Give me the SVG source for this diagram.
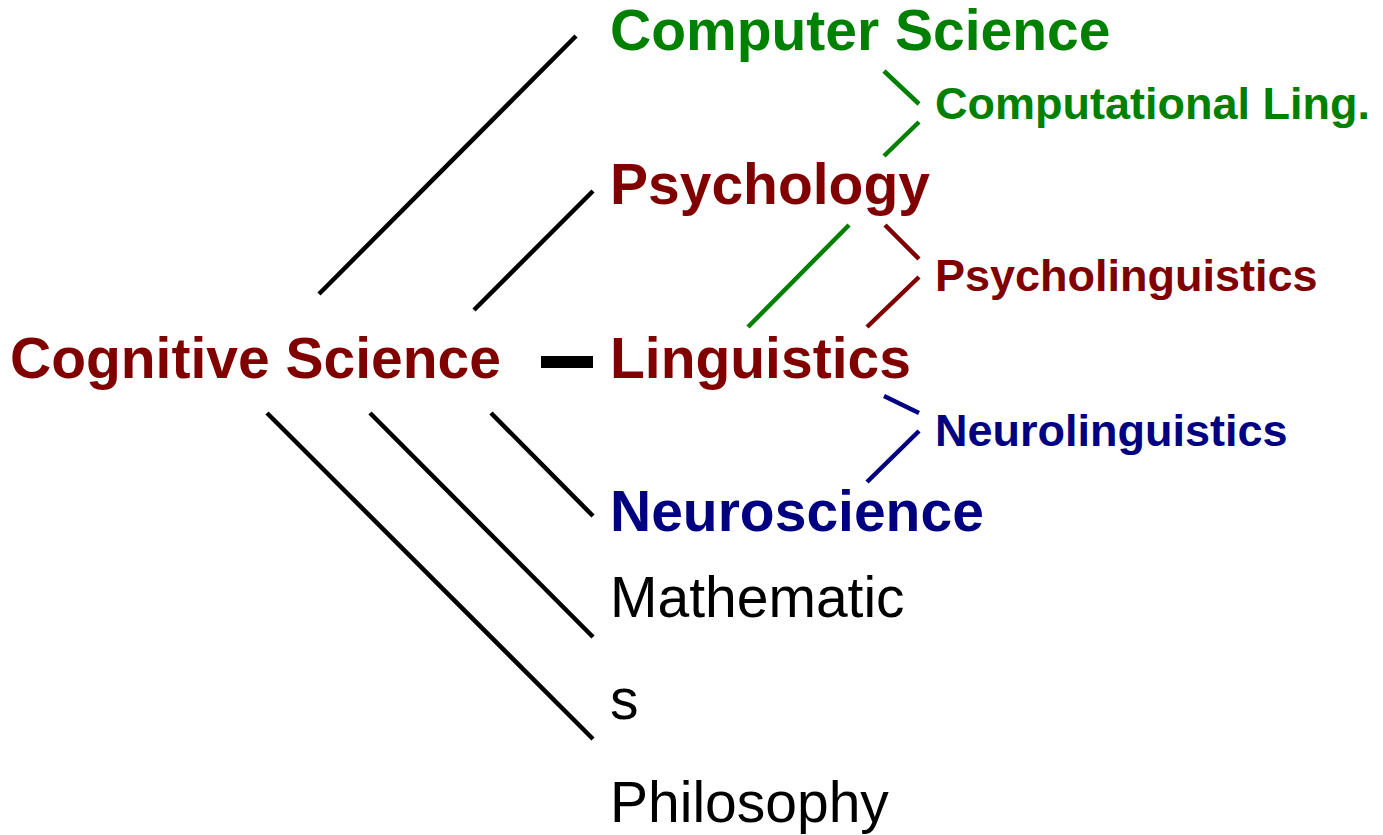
<svg xmlns="http://www.w3.org/2000/svg" width="1383" height="835" viewBox="0 0 1383 835">
<style>
.t{font-family:"Liberation Sans",Arial,sans-serif;font-weight:bold;font-size:57px}
.s{font-family:"Liberation Sans",Arial,sans-serif;font-weight:bold;font-size:45px}
.r{font-family:"Liberation Sans",Arial,sans-serif;font-weight:normal;font-size:57px;fill:#000}
.red{fill:#800000}.grn{fill:#008000}.blu{fill:#000080}
.k{stroke:#000;stroke-width:4.5;fill:none}
.g{stroke:#008000;stroke-width:4.5;fill:none}
.m{stroke:#800000;stroke-width:4.5;fill:none}
.b{stroke:#000080;stroke-width:4.5;fill:none}
</style>
<rect width="1383" height="835" fill="#fff"/>
<g id="connectors">
<line class="k" x1="319" y1="294" x2="576" y2="36"/>
<line class="k" x1="474" y1="310" x2="593" y2="191"/>
<rect x="541" y="356" width="52" height="12" fill="#000"/>
<line class="k" x1="491" y1="413" x2="593" y2="516"/>
<line class="k" x1="370" y1="413" x2="593" y2="637"/>
<line class="k" x1="267" y1="413" x2="593" y2="739"/>
<line class="g" x1="884" y1="71" x2="919" y2="104"/>
<line class="g" x1="919" y1="122" x2="884" y2="156"/>
<line class="g" x1="849" y1="225" x2="748" y2="327"/>
<line class="m" x1="885" y1="225" x2="919" y2="259"/>
<line class="m" x1="919" y1="277" x2="867" y2="327"/>
<line class="b" x1="884" y1="396" x2="919" y2="413"/>
<line class="b" x1="919" y1="431" x2="867" y2="482"/>
</g>
<g id="cogsci"><text class="t red" x="10" y="378">Cognitive Science</text></g>
<g id="compsci"><text class="t grn" x="610" y="50">Computer Science</text></g>
<g id="psych"><text class="t red" x="610" y="204">Psychology</text></g>
<g id="ling"><text class="t red" x="610" y="378">Linguistics</text></g>
<g id="neuro"><text class="t blu" x="610" y="531">Neuroscience</text></g>
<g id="math"><text class="r" x="610" y="617">Mathematic</text><text class="r" x="610" y="719">s</text></g>
<g id="phil"><text class="r" x="610" y="822">Philosophy</text></g>
<g id="complingx"><text class="s grn" x="935" y="119">Computational Ling.</text></g>
<g id="psycholing"><text class="s red" x="935" y="291">Psycholinguistics</text></g>
<g id="neuroling"><text class="s blu" x="935" y="446">Neurolinguistics</text></g>
</svg>
